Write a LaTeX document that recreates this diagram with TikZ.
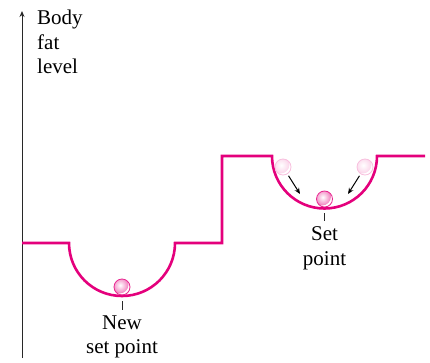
\documentclass[tikz,border=0pt]{standalone}
\usepackage{fontspec}
\setmainfont{Liberation Serif}
\usepackage{tikz}
\usetikzlibrary{positioning, arrows.meta}
\definecolor{fatpink}{RGB}{228, 0, 124}
\definecolor{axisgray}{RGB}{40, 40, 40}

\begin{document}
\begin{tikzpicture}[x=1pt, y=1pt, >={Stealth[length=6pt, width=5pt]},
    level/.style={draw=fatpink, line width=2.6pt, line join=miter},
    ball/.style={circle, inner sep=0pt, minimum size=16pt, draw=fatpink!85, line width=0.8pt,
        path picture={\shade[inner color=white, outer color=fatpink!60]
            ([shift={(-2.5pt,2.5pt)}]path picture bounding box.center) circle (9pt);}},
    ghost/.style={circle, inner sep=0pt, minimum size=16pt, draw=fatpink!25, line width=0.8pt,
        path picture={\shade[inner color=white, outer color=fatpink!20]
            ([shift={(-2.5pt,2.5pt)}]path picture bounding box.center) circle (9pt);}},
    tick/.style={draw=axisgray, line width=0.8pt},
    lbl/.style={align=center, font=\fontsize{21}{24.5}\selectfont, inner sep=0pt}]
    \useasboundingbox (0,0) rectangle (430,362);
    % Axis
    \coordinate (base) at (22,4);
    \coordinate (top) at (22,351);
    \draw[->, axisgray, line width=1pt] (base) -- (top);
    \node (ylabel) [lbl, align=left, anchor=north west] at (37,352) {Body\\fat\\level};

    % Levels
    \draw[level] (22,119) -- (69,119) arc (180:360:53) -- (222,119) -- (222,206)
        -- (272,206) arc (180:360:52.5) -- (425,206);

    % Balls
    \node (newpt) [ball] at (122,75) {};
    \node (setpt) [ball] at (324.5,163) {};
    \node (ghostL) [ghost] at (283,195) {};
    \node (ghostR) [ghost] at (365,195) {};

    % Arrows
    \coordinate (endL) at (300,168);
    \coordinate (endR) at (348,168);
    \draw[->, black, line width=1pt, shorten <=2pt] (ghostL) -- (endL);
    \draw[->, black, line width=1pt, shorten <=2pt] (ghostR) -- (endR);

    % Labels
    \draw[tick] (newpt.south) ++(0,-6) coordinate (t1) -- ++(0,-9) coordinate (t1e);
    \node (newlbl) [lbl, below=5pt of t1e] {New\\set point};
    \draw[tick] (setpt.south) ++(0,-6) coordinate (t2) -- ++(0,-8) coordinate (t2e);
    \node (setlbl) [lbl, below=5pt of t2e] {Set\\point};
\end{tikzpicture}
\end{document}
